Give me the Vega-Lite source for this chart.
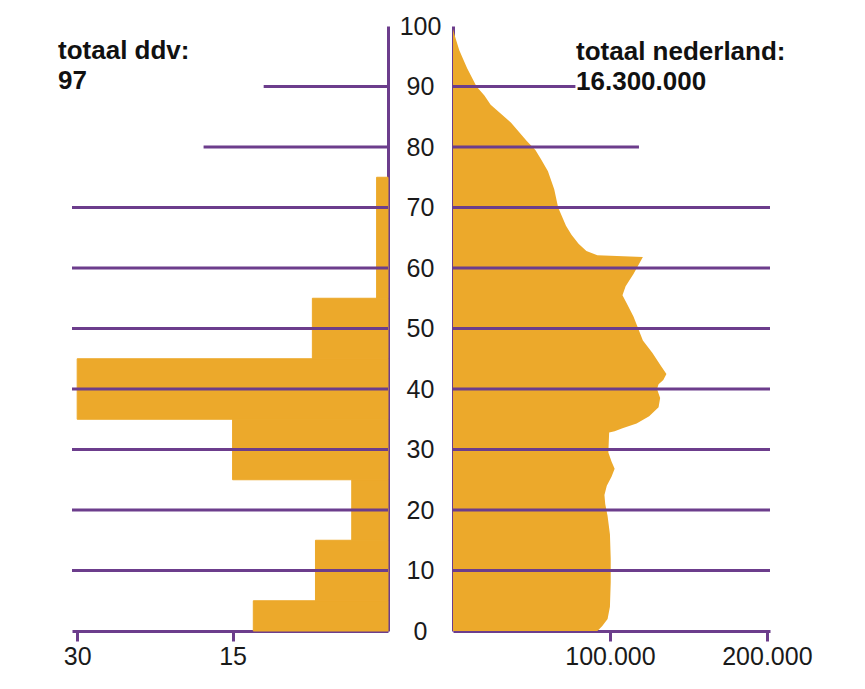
{
  "$schema": "https://vega.github.io/schema/vega-lite/v6.json",
  "background": "white",
  "padding": {"left": 58, "top": 14, "right": 5, "bottom": 5},
  "config": {
    "view": {"stroke": null},
    "font": "Liberation Sans",
    "axis": {
      "domainColor": "#6C3D8C", "domainWidth": 3, "tickColor": "#6C3D8C", "tickWidth": 3,
      "labelFont": "Liberation Sans", "labelFontSize": 25, "labelColor": "#1a1a1a",
      "grid": false, "title": null, "labelFlush": false, "labelOverlap": false, "zindex": 1
    }
  },
  "datasets": {
    "ddv": [
      {"van": 0, "tot": 5, "aantal": 13},
      {"van": 5, "tot": 15, "aantal": 7},
      {"van": 15, "tot": 25, "aantal": 3.5},
      {"van": 25, "tot": 35, "aantal": 15},
      {"van": 35, "tot": 45, "aantal": 30},
      {"van": 45, "tot": 55, "aantal": 7.3},
      {"van": 55, "tot": 75, "aantal": 1.1}
    ],
    "nl": [
      {"leeftijd": 0, "aantal": 92000},
      {"leeftijd": 0.8, "aantal": 95000},
      {"leeftijd": 2, "aantal": 98500},
      {"leeftijd": 4, "aantal": 100000},
      {"leeftijd": 8, "aantal": 100500},
      {"leeftijd": 12, "aantal": 100500},
      {"leeftijd": 16, "aantal": 100000},
      {"leeftijd": 19, "aantal": 98500},
      {"leeftijd": 21, "aantal": 97000},
      {"leeftijd": 22.5, "aantal": 96500},
      {"leeftijd": 24, "aantal": 98000},
      {"leeftijd": 25.5, "aantal": 101000},
      {"leeftijd": 26.8, "aantal": 103000},
      {"leeftijd": 28, "aantal": 101000},
      {"leeftijd": 29.5, "aantal": 99000},
      {"leeftijd": 32.8, "aantal": 99500},
      {"leeftijd": 33, "aantal": 103000},
      {"leeftijd": 33.5, "aantal": 108000},
      {"leeftijd": 34.3, "aantal": 117000},
      {"leeftijd": 35.5, "aantal": 125000},
      {"leeftijd": 37, "aantal": 131000},
      {"leeftijd": 38.5, "aantal": 132000},
      {"leeftijd": 40, "aantal": 130000},
      {"leeftijd": 40.8, "aantal": 131000},
      {"leeftijd": 41.5, "aantal": 134000},
      {"leeftijd": 42.5, "aantal": 136000},
      {"leeftijd": 44, "aantal": 132000},
      {"leeftijd": 46, "aantal": 127000},
      {"leeftijd": 48, "aantal": 121000},
      {"leeftijd": 50, "aantal": 118000},
      {"leeftijd": 52, "aantal": 115000},
      {"leeftijd": 54, "aantal": 111000},
      {"leeftijd": 55.5, "aantal": 108000},
      {"leeftijd": 57, "aantal": 110000},
      {"leeftijd": 59, "aantal": 115000},
      {"leeftijd": 61.8, "aantal": 121000},
      {"leeftijd": 62.1, "aantal": 92000},
      {"leeftijd": 62.8, "aantal": 85000},
      {"leeftijd": 64, "aantal": 80000},
      {"leeftijd": 65.5, "aantal": 75500},
      {"leeftijd": 67, "aantal": 72000},
      {"leeftijd": 70, "aantal": 67000},
      {"leeftijd": 73, "aantal": 64500},
      {"leeftijd": 76, "aantal": 60500},
      {"leeftijd": 78, "aantal": 56000},
      {"leeftijd": 79.5, "aantal": 52500},
      {"leeftijd": 81, "aantal": 47000},
      {"leeftijd": 84, "aantal": 37000},
      {"leeftijd": 87, "aantal": 24000},
      {"leeftijd": 88.5, "aantal": 20000},
      {"leeftijd": 90, "aantal": 15000},
      {"leeftijd": 93, "aantal": 9000},
      {"leeftijd": 96, "aantal": 4000},
      {"leeftijd": 98.5, "aantal": 1000},
      {"leeftijd": 99.5, "aantal": 0}
    ],
    "grid": [
      {"leeftijd": 10, "ddv": 30.5, "nl": 202000},
      {"leeftijd": 20, "ddv": 30.5, "nl": 202000},
      {"leeftijd": 30, "ddv": 30.5, "nl": 202000},
      {"leeftijd": 40, "ddv": 30.5, "nl": 202000},
      {"leeftijd": 50, "ddv": 30.5, "nl": 202000},
      {"leeftijd": 60, "ddv": 30.5, "nl": 202000},
      {"leeftijd": 70, "ddv": 30.5, "nl": 202000},
      {"leeftijd": 80, "ddv": 17.8, "nl": 118500},
      {"leeftijd": 90, "ddv": 12, "nl": 78000}
    ]
  },
  "spacing": 65,
  "bounds": "flush",
  "hconcat": [
    {
      "width": 316,
      "height": 605,
      "layer": [
        {
          "data": {"name": "ddv"},
          "mark": {"type": "rect", "color": "#ECA92B", "stroke": "#ECA92B", "strokeWidth": 1},
          "encoding": {
            "y": {"field": "van", "type": "quantitative",
                  "scale": {"domain": [0, 100], "nice": false},
                  "axis": {"orient": "right", "values": [0, 10, 20, 30, 40, 50, 60, 70, 80, 90, 100],
                           "ticks": false, "tickSize": 0, "labelAlign": "center", "labelPadding": 32}},
            "y2": {"field": "tot"},
            "x": {"field": "aantal", "type": "quantitative",
                  "scale": {"domain": [0, 30.5], "reverse": true, "nice": false},
                  "axis": {"values": [15, 30], "tickSize": 10, "labelPadding": 3}},
            "x2": {"datum": 0}
          }
        },
        {
          "data": {"name": "grid"},
          "mark": {"type": "rule", "color": "#6C3D8C", "strokeWidth": 3},
          "encoding": {
            "y": {"field": "leeftijd", "type": "quantitative"},
            "x": {"field": "ddv", "type": "quantitative"},
            "x2": {"datum": 0}
          }
        },
        {
          "data": {"values": [{"x": 31.85, "y": 94.5, "tekst": "totaal ddv:\n97"}]},
          "mark": {"type": "text", "align": "left", "baseline": "alphabetic", "fontSize": 26,
                   "fontWeight": "bold", "lineHeight": 30, "lineBreak": "\n", "color": "#111111"},
          "encoding": {
            "x": {"field": "x", "type": "quantitative"},
            "y": {"field": "y", "type": "quantitative"},
            "text": {"field": "tekst"}
          }
        }
      ]
    },
    {
      "width": 317,
      "height": 605,
      "layer": [
        {
          "data": {"name": "nl"},
          "mark": {"type": "area", "orient": "horizontal", "color": "#ECA92B"},
          "encoding": {
            "y": {"field": "leeftijd", "type": "quantitative",
                  "scale": {"domain": [0, 100], "nice": false},
                  "axis": {"orient": "left", "labels": false, "ticks": false}},
            "x": {"field": "aantal", "type": "quantitative", "stack": null,
                  "scale": {"domain": [0, 202000], "nice": false},
                  "axis": {"values": [100000, 200000], "labelExpr": "(datum.value / 1000) + '.000'",
                           "tickSize": 10, "labelPadding": 3}}
          }
        },
        {
          "data": {"name": "grid"},
          "mark": {"type": "rule", "color": "#6C3D8C", "strokeWidth": 3},
          "encoding": {
            "y": {"field": "leeftijd", "type": "quantitative"},
            "x": {"field": "nl", "type": "quantitative"},
            "x2": {"datum": 0}
          }
        },
        {
          "data": {"values": [{"x": 78400, "y": 94.4, "tekst": "totaal nederland:\n16.300.000"}]},
          "mark": {"type": "text", "align": "left", "baseline": "alphabetic", "fontSize": 26,
                   "fontWeight": "bold", "lineHeight": 30, "lineBreak": "\n", "color": "#111111"},
          "encoding": {
            "x": {"field": "x", "type": "quantitative"},
            "y": {"field": "y", "type": "quantitative"},
            "text": {"field": "tekst"}
          }
        }
      ]
    }
  ]
}
